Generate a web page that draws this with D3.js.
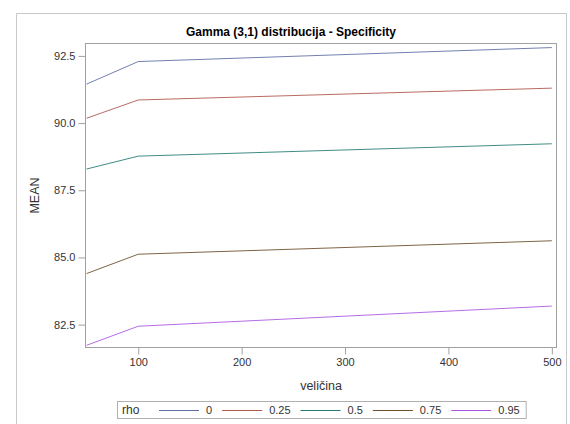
<!DOCTYPE html>
<html><head><meta charset="utf-8">
<script src="https://cdn.jsdelivr.net/npm/d3@7"></script>
<style>body{margin:0;background:#fff;}svg{display:block;font-family:"Liberation Sans",Arial,sans-serif;}</style>
</head><body>
<svg id="c" width="570" height="424"></svg>
<script>
const sizes = [50, 100, 500];
const rhoLabels = ["0", "0.25", "0.5", "0.75", "0.95"];
const mean_rho0 = [91.45, 92.29, 92.81];
const mean_rho025 = [90.18, 90.86, 91.30];
const mean_rho05 = [88.29, 88.77, 89.23];
const mean_rho075 = [84.40, 85.12, 85.62];
const mean_rho095 = [81.73, 82.44, 83.19];
const yTicks = [82.5, 85.0, 87.5, 90.0, 92.5];
const xTicks = [100, 200, 300, 400, 500];
const colors = ["#445694", "#A23A2E", "#01665E", "#543005", "#9D3CDB"];
const seriesValues = [mean_rho0, mean_rho025, mean_rho05, mean_rho075, mean_rho095];

const svg = d3.select("#c");
const L = 85, R = 557, T = 43, B = 348;
const x = d3.scaleLinear().domain([48.5, 505]).range([L, R]);
const y = d3.scaleLinear().domain([81.63, 92.98]).range([B, T]);

// outer border
svg.append("path").attr("d", "M16.5,430V13.5H566.5V430").attr("fill", "none").attr("stroke", "#c8c8c8").attr("stroke-width", 1);

svg.append("text").attr("x", 291).attr("y", 36).attr("text-anchor", "middle")
  .attr("font-size", 12).attr("font-weight", "bold").attr("fill", "#000").text("Gamma (3,1) distribucija - Specificity");

// plot frame
svg.append("rect").attr("x", L + 0.5).attr("y", T + 0.5).attr("width", R - L - 1).attr("height", B - T - 1)
  .attr("fill", "none").attr("stroke", "#a0a0a0");

const yAxis = svg.append("g").attr("transform", `translate(${L + 0.5},0)`)
  .call(d3.axisLeft(y).tickValues(yTicks).tickFormat(d3.format(".1f")).tickSize(7).tickPadding(3));
const xAxis = svg.append("g").attr("transform", `translate(0,${B - 0.5})`)
  .call(d3.axisBottom(x).tickValues(xTicks).tickFormat(d3.format("d")).tickSize(7).tickPadding(4));
[yAxis, xAxis].forEach(a => {
  a.select(".domain").remove();
  a.selectAll("line").attr("stroke", "#a0a0a0");
  a.selectAll("text").attr("font-size", 11).attr("fill", "#333").attr("font-family", "Liberation Sans, Arial, sans-serif");
});

svg.append("text").attr("x", (L + R) / 2).attr("y", 390).attr("text-anchor", "middle")
  .attr("font-size", 12.5).attr("fill", "#333").text("veličina");
svg.append("text").attr("transform", `translate(39,${(T + B) / 2}) rotate(-90)`).attr("text-anchor", "middle")
  .attr("font-size", 12.5).attr("fill", "#333").text("MEAN");

const line = d3.line().x((d, i) => x(sizes[i])).y(d => y(d));
seriesValues.forEach((vals, k) => {
  svg.append("path").datum(vals).attr("d", line).attr("fill", "none")
    .attr("stroke", colors[k]).attr("stroke-width", 1).attr("opacity", 0.75);
});

// legend
const lg = svg.append("g");
const lgY = 410;
let cx = 0;
lg.append("text").attr("x", 5).attr("y", lgY + 4).attr("font-size", 12).attr("fill", "#333").text("rho");
cx = 42;
rhoLabels.forEach((lab, k) => {
  lg.append("line").attr("x1", cx).attr("x2", cx + 40).attr("y1", lgY + 0.5).attr("y2", lgY + 0.5)
    .attr("stroke", colors[k]).attr("opacity", 0.85);
  const t = lg.append("text").attr("x", cx + 47).attr("y", lgY + 4).attr("font-size", 11).attr("fill", "#333").text(lab);
  cx = cx + 47 + t.node().getComputedTextLength() + 10;
});
const wBox = cx - 10 + 6;
lg.insert("rect", ":first-child").attr("x", 0.5).attr("y", 401.5).attr("width", wBox).attr("height", 17)
  .attr("fill", "#fff").attr("stroke", "#b0b0b0");
lg.attr("transform", `translate(${Math.round((L + R) / 2 - wBox / 2)},0)`);
</script>
</body></html>
